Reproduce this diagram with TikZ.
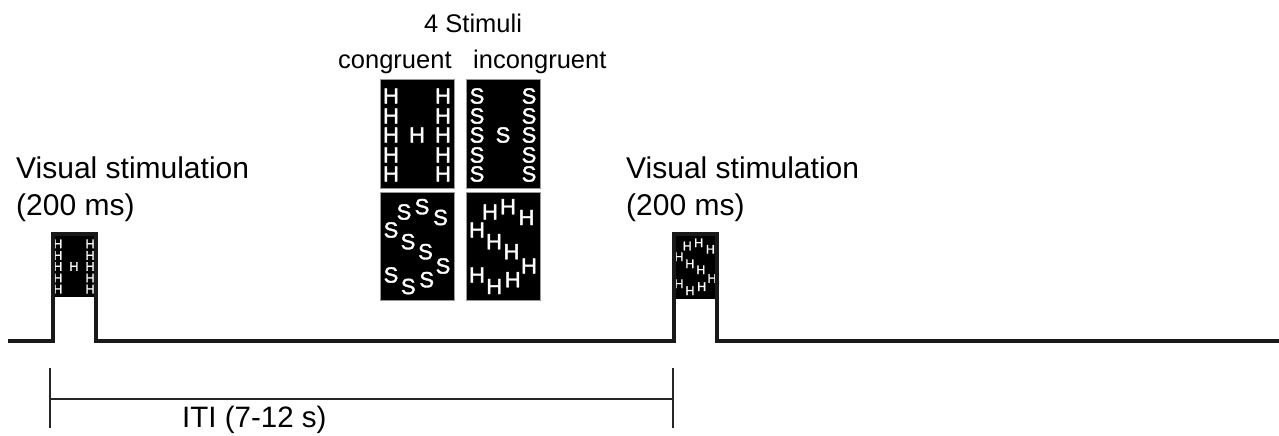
\documentclass[tikz,border=0pt]{standalone}
\usepackage{fontspec}
\setmainfont{Liberation Sans}
\newfontfamily\stimfont[FakeBold=1.6]{Liberation Sans}
\begin{document}
\begin{tikzpicture}[x=1pt,y=-1pt,
  lbl/.style={inner sep=0pt, anchor=base west, font=\fontsize{30}{36}\selectfont},
  hdr/.style={inner sep=0pt, anchor=base west, font=\fontsize{25.5}{30}\selectfont},
  stimbox/.style={draw=black!40, line width=0.8pt, fill=black, inner sep=0pt, anchor=north west},
  bigletter/.style={text=white, inner sep=0pt, font=\stimfont\fontsize{22}{22}\selectfont},
  smallletter/.style={text=white, inner sep=0pt, font=\stimfont\fontsize{12.5}{12.5}\selectfont},
  pulse/.style={line width=4pt, line join=miter, black!90},
  bracket/.style={line width=2.2pt, black!85}]
\useasboundingbox (0,0) rectangle (1279,436);
\def\gridpos{11/17,11/37,11/56,11/76,11/95,37/56,63/17,63/37,63/56,63/76,63/95}
\def\scatpos{24/20,42/14.7,60.5/25.5,11/38,28/49.7,45.5/59.7,63/74,11/83,28.3/94.5,46.7/87.7}

% four stimuli
\node[stimbox, minimum width=74pt, minimum height=109pt] (b1) at (380,79) {};
\node[stimbox, minimum width=74pt, minimum height=109pt] (b2) at (466,79) {};
\node[stimbox, minimum width=74pt, minimum height=108pt] (b3) at (380,192) {};
\node[stimbox, minimum width=74pt, minimum height=108pt] (b4) at (466,192) {};
\begin{scope}[shift={(380,79)}]
  \foreach \x/\y [count=\i] in \gridpos {\node[bigletter] (ha\i) at (\x,\y) {H};}
\end{scope}
\begin{scope}[shift={(466,79)}]
  \foreach \x/\y [count=\i] in \gridpos {\node[bigletter] (sa\i) at (\x,\y) {S};}
\end{scope}
\begin{scope}[shift={(380,192)}]
  \foreach \x/\y [count=\i] in \scatpos {\node[bigletter] (sb\i) at (\x,\y) {S};}
\end{scope}
\begin{scope}[shift={(466,192)}]
  \foreach \x/\y [count=\i] in \scatpos {\node[bigletter] (hb\i) at (\x,\y) {H};}
\end{scope}

% headings
\node[hdr] (stim) at (424,33) {4 Stimuli};
\node[hdr] (cong) at (338,68) {congruent};
\node[hdr] (incong) at (473,68) {incongruent};

% pulse boxes
\fill (52,234) rectangle (96,297);
\fill (673,234) rectangle (717,299);
\begin{scope}[shift={(51,234)}, xscale=0.62, yscale=0.58]
  \foreach \x/\y [count=\i] in \gridpos {\node[smallletter] (hp\i) at (\x,\y) {H};}
\end{scope}
\begin{scope}[shift={(672,234)}, xscale=0.635, yscale=0.6]
  \foreach \x/\y [count=\i] in \scatpos {\node[smallletter] (hq\i) at (\x,\y) {H};}
\end{scope}

% time line
\coordinate (p0) at (8,341);
\coordinate (p1) at (52.5,341);
\coordinate (p2) at (52.5,234);
\coordinate (p3) at (95.5,234);
\coordinate (p4) at (95.5,341);
\coordinate (p5) at (673.5,341);
\coordinate (p6) at (673.5,234);
\coordinate (p7) at (716.5,234);
\coordinate (p8) at (716.5,341);
\coordinate (p9) at (1279,341);
\draw[pulse] (p0) -- (p1) -- (p2) -- (p3) -- (p4) -- (p5) -- (p6) -- (p7) -- (p8) -- (p9);

% labels
\node[lbl] (vs1) at (16,178) {Visual stimulation};
\node[lbl] (ms1) at (16,215) {(200 ms)};
\node[lbl] (vs2) at (626,178) {Visual stimulation};
\node[lbl] (ms2) at (626,215) {(200 ms)};

% ITI bracket
\coordinate (t1a) at (49.7,368);
\coordinate (t1b) at (49.7,428);
\coordinate (t2a) at (673.3,368);
\coordinate (t2b) at (673.3,428);
\coordinate (m1) at (49.7,399);
\coordinate (m2) at (673.3,399);
\draw[bracket] (t1a) -- (t1b);
\draw[bracket] (t2a) -- (t2b);
\draw[bracket] (m1) -- (m2);
\node[lbl, font=\fontsize{29.5}{36}\selectfont] (iti) at (182,427) {ITI (7-12 s)};
\end{tikzpicture}
\end{document}
